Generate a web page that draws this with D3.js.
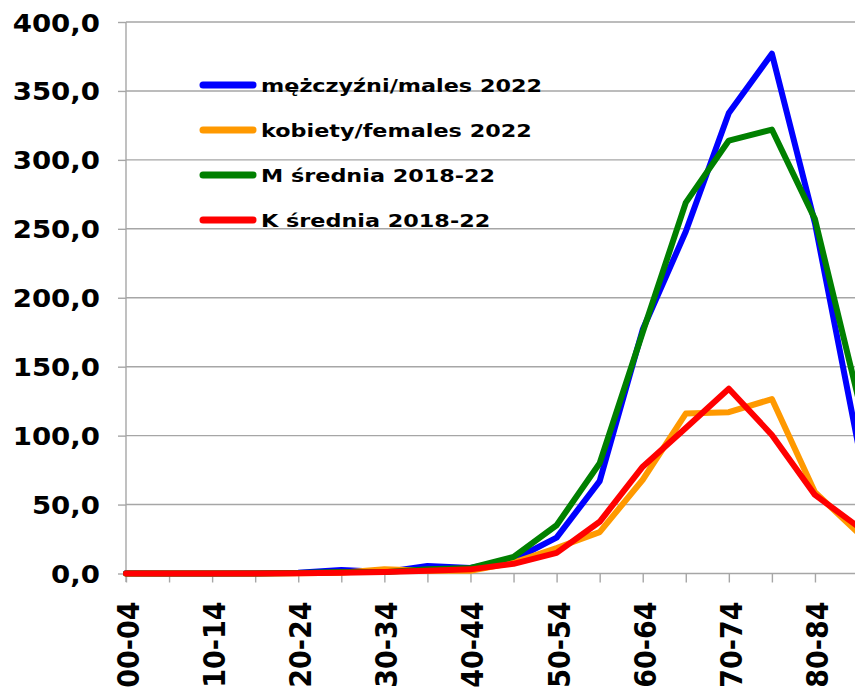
<!DOCTYPE html>
<html>
<head>
<meta charset="utf-8">
<script src="https://cdn.jsdelivr.net/npm/d3@7"></script>
<style>
  body { margin: 0; background: #fff; }
  svg { display: block; }
</style>
</head>
<body>
<div id="chart"></div>
<script>
// age groups (x categories)
var ageGroups = ["00-04","05-09","10-14","15-19","20-24","25-29","30-34","35-39","40-44",
                 "45-49","50-54","55-59","60-64","65-69","70-74","75-79","80-84","85+"];

// series values
var males2022   = [0.1, 0, 0, 0.2, 0.5, 2.5, 1, 5.5, 4, 10, 26, 67, 177, 248, 334, 377, 254, 94];
var females2022 = [0, 0, 0, 0, 0.2, 0.5, 3, 2, 2, 8, 18.5, 30, 68, 116, 117, 126.5, 59, 29.5];
var mAvg        = [0, 0, 0, 0, 0.3, 1, 1, 3, 4, 12, 35, 80, 175, 269, 314, 322, 257, 128];
var kAvg        = [0, 0, 0, 0, 0.2, 0.5, 1, 2, 3, 7, 15, 37.5, 77.5, 105.5, 134, 100.5, 57, 34];

var seriesNames  = ["mężczyźni/males 2022", "kobiety/females 2022", "M średnia 2018-22", "K średnia 2018-22"];
var seriesColors = ["#0000ff", "#ff9900", "#008000", "#ff0000"];
var yTicks = [0, 50, 100, 150, 200, 250, 300, 350, 400];

var series = [males2022, females2022, mAvg, kAvg].map(function(v, i) {
    return {name: seriesNames[i], color: seriesColors[i], values: v};
});

var W = 855, H = 693;
var svg = d3.select("#chart").append("svg")
    .attr("width", W)
    .attr("height", H)
    .style("font-family", "'DejaVu Sans', Verdana, sans-serif")
    .style("font-weight", "bold");

var x = d3.scalePoint()
    .domain(ageGroups)
    .range([126, 126 + 17 * 43.06]);

var y = d3.scaleLinear()
    .domain([0, 400])
    .range([573.5, 22]);

// grid lines
svg.append("g")
    .selectAll("line")
    .data(yTicks.slice(1))
    .enter()
    .append("line")
    .attr("x1", 126)
    .attr("x2", W)
    .attr("y1", function(d) { return y(d); })
    .attr("y2", function(d) { return y(d); })
    .attr("stroke", "#a6a6a6")
    .attr("stroke-width", 1.4);

// y axis
var yAxis = svg.append("g")
    .attr("transform", "translate(126,0)")
    .call(d3.axisLeft(y)
        .tickValues(yTicks)
        .tickSize(8)
        .tickSizeOuter(0)
        .tickFormat(function(d) { return d3.format(".1f")(d).replace(".", ","); }));

yAxis.select(".domain").attr("stroke", "#a6a6a6").attr("stroke-width", 1.4)
    .attr("d", "M0,22V582");
yAxis.selectAll(".tick line").attr("stroke", "#a6a6a6").attr("stroke-width", 1.4);
yAxis.selectAll(".tick text")
    .attr("x", -26 / 1.15)
    .attr("dy", 9)
    .attr("transform", "scale(1.15,1)")
    .attr("fill", "#000")
    .style("font-size", "24px")
    .style("font-family", "'DejaVu Sans', Verdana, sans-serif")
    .style("font-weight", "bold");

// x axis
var xAxis = svg.append("g")
    .attr("transform", "translate(0," + y(0) + ")")
    .call(d3.axisBottom(x)
        .tickSize(9)
        .tickSizeOuter(0)
        .tickFormat(function(d, i) { return i % 2 === 0 ? d : ""; }));

xAxis.select(".domain").attr("stroke", "#a6a6a6").attr("stroke-width", 1.4)
    .attr("d", "M126,0H" + W);
xAxis.selectAll(".tick line").attr("stroke", "#a6a6a6").attr("stroke-width", 1.4);
xAxis.selectAll(".tick text")
    .attr("x", 0)
    .attr("y", 0)
    .attr("dy", 0)
    .attr("text-anchor", "end")
    .attr("transform", "translate(12.5,28) scale(1.1,1) rotate(-90)")
    .attr("fill", "#000")
    .style("font-size", "27px")
    .style("font-family", "'DejaVu Sans', Verdana, sans-serif")
    .style("font-weight", "bold");

// lines
var line = d3.line()
    .x(function(d, i) { return x(ageGroups[i]); })
    .y(function(d) { return y(d); });

svg.append("g")
    .selectAll("path")
    .data(series)
    .enter()
    .append("path")
    .attr("d", function(d) { return line(d.values); })
    .attr("fill", "none")
    .attr("stroke", function(d) { return d.color; })
    .attr("stroke-width", 6)
    .attr("stroke-linejoin", "round")
    .attr("stroke-linecap", "round");

// legend
var legend = svg.append("g")
    .selectAll("g")
    .data(series)
    .enter()
    .append("g")
    .attr("transform", function(d, i) { return "translate(200," + (85 + i * 45) + ")"; });

legend.append("line")
    .attr("x1", 3)
    .attr("x2", 53)
    .attr("stroke", function(d) { return d.color; })
    .attr("stroke-width", 7)
    .attr("stroke-linecap", "round");

legend.append("text")
    .attr("transform", "translate(61,7) scale(1.24,1)")
    .style("font-size", "18px")
    .text(function(d) { return d.name; });
</script>
</body>
</html>
